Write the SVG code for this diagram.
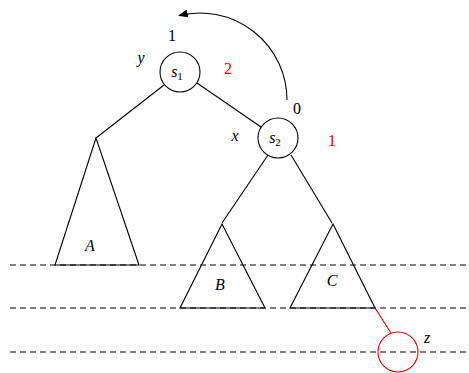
<svg xmlns="http://www.w3.org/2000/svg" width="469" height="373" viewBox="0 0 469 373">
<style>
.ln{stroke:#000;stroke-width:1.1;fill:none}
.dash{stroke:#000;stroke-width:1;stroke-dasharray:6,4;fill:none}
.nd{stroke:#000;stroke-width:1.1;fill:#fff}
.t{font-family:"Liberation Serif",serif;font-size:16px;fill:#000;text-anchor:middle}
.i{font-style:italic}
.r{fill:#e00000}
</style>
<defs>
<marker id="ah" markerWidth="10" markerHeight="8" refX="9" refY="4" orient="auto" markerUnits="userSpaceOnUse">
<path d="M0,0 L10,4 L0,8 Z" fill="#000"/>
</marker>
</defs>
<g id="levels">
<line class="dash" x1="10" y1="265" x2="466" y2="265"/>
<line class="dash" x1="10" y1="308" x2="466" y2="308"/>
<line class="dash" x1="10" y1="352" x2="466" y2="352"/>
</g>
<g id="connectors">
<line class="ln" x1="164" y1="85" x2="96" y2="138"/>
<line class="ln" x1="197" y1="83" x2="261" y2="127"/>
<line class="ln" x1="268" y1="155" x2="222" y2="223"/>
<line class="ln" x1="291" y1="155" x2="332" y2="223"/>
<line stroke="#e00000" stroke-width="1.1" x1="375" y1="308" x2="391" y2="333"/>
<path class="ln" d="M287,100 A87,87 0 0 0 179,15.6" marker-end="url(#ah)"/>
</g>
<g id="A">
<polygon class="ln" points="96,138 55,265 139,265"/>
<text class="t i" x="90" y="251">A</text>
</g>
<g id="B">
<polygon class="ln" points="222,224 180,308 265,308"/>
<text class="t i" x="220" y="290">B</text>
</g>
<g id="C">
<polygon class="ln" points="333,224 290,308 375,308"/>
<text class="t i" x="332" y="286">C</text>
</g>
<g id="s1">
<circle class="nd" cx="180" cy="72" r="20"/>
<text class="t i" x="177" y="77">s<tspan font-style="normal" font-size="11" dy="3">1</tspan></text>
</g>
<g id="s2">
<circle class="nd" cx="278" cy="138" r="20"/>
<text class="t i" x="275" y="143">s<tspan font-style="normal" font-size="11" dy="3">2</tspan></text>
</g>
<g id="z">
<circle cx="398" cy="352" r="20" stroke="#e00000" stroke-width="1.1" fill="none"/>
<text class="t i" x="427" y="343">z</text>
</g>
<g id="labels">
<text class="t" x="172" y="41">1</text>
<text class="t i" x="141" y="63">y</text>
<text class="t r" x="228" y="74">2</text>
<text class="t" x="297" y="114">0</text>
<text class="t i" x="235" y="141">x</text>
<text class="t r" x="332" y="146">1</text>
</g>
</svg>
